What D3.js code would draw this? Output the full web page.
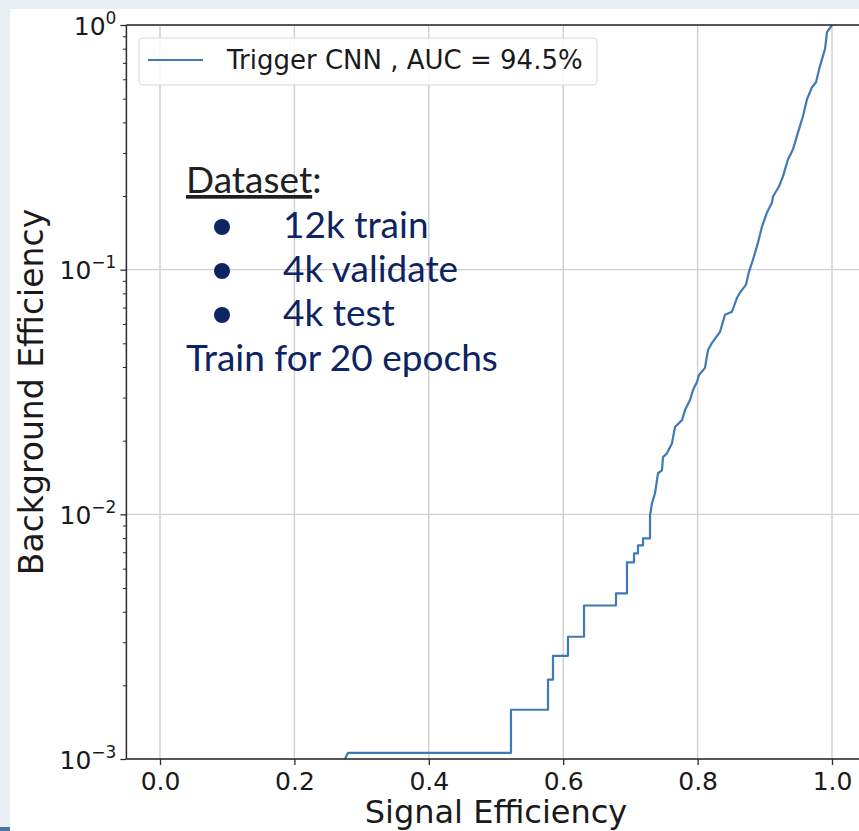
<!DOCTYPE html>
<html>
<head>
<meta charset="utf-8">
<script src="https://cdn.jsdelivr.net/npm/d3@7"></script>
<style>
  body { margin: 0; background: #e9eef4; }
  svg { display: block; }
</style>
</head>
<body>
<div id="chart"></div>
<script>
// ROC curve (signal efficiency = TPR, background efficiency = FPR)
const signalEff = [0.2753, 0.2798, 0.5223, 0.5223, 0.5774, 0.5774, 0.5848, 0.5848, 0.6071, 0.6071,
  0.6310, 0.6310, 0.6786, 0.6786, 0.6949, 0.6949, 0.7054, 0.7054, 0.7113, 0.7113,
  0.7188, 0.7188, 0.7292, 0.7292, 0.7321, 0.7366, 0.7411, 0.7470, 0.7485, 0.7545,
  0.7619, 0.7664, 0.7768, 0.7813, 0.7887, 0.7932, 0.7991, 0.8021, 0.8110, 0.8155,
  0.8214, 0.8333, 0.8408, 0.8512, 0.8586, 0.8631, 0.8720, 0.8765, 0.8824, 0.8869,
  0.8899, 0.8958, 0.9033, 0.9107, 0.9122, 0.9211, 0.9271, 0.9345, 0.9420, 0.9494,
  0.9568, 0.9628, 0.9702, 0.9762, 0.9821, 0.9896, 0.9926, 1.0];
const backgroundEff = [0.00100, 0.00106, 0.00106, 0.00159, 0.00159, 0.00211, 0.00211, 0.00264, 0.00264, 0.00316,
  0.00316, 0.00424, 0.00424, 0.00475, 0.00475, 0.00636, 0.00636, 0.00692, 0.00692, 0.00746,
  0.00746, 0.00797, 0.00797, 0.00990, 0.01109, 0.01219, 0.01472, 0.01514, 0.01713, 0.01778,
  0.01954, 0.02274, 0.02427, 0.02668, 0.02931, 0.03222, 0.03475, 0.03714, 0.03967, 0.04699,
  0.05020, 0.05570, 0.06546, 0.06730, 0.07676, 0.08050, 0.08686, 0.09818, 0.1099, 0.1208,
  0.1291, 0.1501, 0.1714, 0.1882, 0.1991, 0.2188, 0.2405, 0.2823, 0.3103, 0.3642,
  0.4236, 0.4974, 0.5569, 0.5838, 0.6792, 0.7974, 0.9355, 1.0];

const xTicks = [0.0, 0.2, 0.4, 0.6, 0.8, 1.0];
const yTicks = [1e-3, 1e-2, 1e-1, 1];
const yTickExp = ["\u22123", "\u22122", "\u22121", "0"];
const legendLabel = "Trigger CNN , AUC = 94.5%";
const noteTitle = "Dataset";
const noteItems = ["12k train", "4k validate", "4k test"];
const noteFooter = "Train for 20 epochs";

const width = 859, height = 831;
const lineColor = "#3f79b8";
const navy = "#0c2462";

const svg = d3.select("#chart").append("svg")
    .attr("width", width)
    .attr("height", height);

// slide background + white panel
svg.append("rect").attr("width", width).attr("height", height).attr("fill", "#e9eef4");
svg.append("rect").attr("x", 10).attr("y", 9).attr("width", width - 10).attr("height", height - 9).attr("fill", "#fff");
svg.append("rect").attr("x", 0).attr("y", 827).attr("width", 10).attr("height", 4).attr("fill", "#4f72a6");

// scales: x has matplotlib's 5% margins, y is log from 1e-3 to 1
const x = d3.scaleLinear().domain([-0.05, 1.05]).range([126.4, 865.6]);
const y = d3.scaleLog().domain([1e-3, 1]).range([759, 25]);

const [x0, x1] = x.range();
const [y0, y1] = y.range();

// grid
const grid = svg.append("g").attr("stroke", "#cfcfcf").attr("stroke-width", 1.4);
grid.selectAll(".gx").data(xTicks).join("line")
    .attr("x1", d => x(d)).attr("x2", d => x(d))
    .attr("y1", y0).attr("y2", y1);
grid.selectAll(".gy").data(yTicks).join("line")
    .attr("x1", x0).attr("x2", x1)
    .attr("y1", d => y(d)).attr("y2", d => y(d));

// curve
const line = d3.line()
    .x((d, i) => x(signalEff[i]))
    .y((d, i) => y(backgroundEff[i]));

svg.append("path")
    .datum(signalEff)
    .attr("fill", "none")
    .attr("stroke", lineColor)
    .attr("stroke-width", 2.2)
    .attr("stroke-linejoin", "round")
    .attr("d", line);

// spines
svg.append("g").attr("stroke", "#2a2a2a").attr("stroke-width", 1.5).attr("fill", "none")
    .call(g => g.append("line").attr("x1", x0).attr("x2", x0).attr("y1", y0).attr("y2", y1))
    .call(g => g.append("line").attr("x1", x0).attr("x2", x1).attr("y1", y0).attr("y2", y0))
    .call(g => g.append("line").attr("x1", x0).attr("x2", x1).attr("y1", y1).attr("y2", y1));

// x axis
const xAxis = svg.append("g")
    .attr("transform", `translate(0,${y0})`)
    .call(d3.axisBottom(x).tickValues(xTicks).tickFormat(d3.format(".1f")).tickSize(6).tickPadding(7));
xAxis.select(".domain").remove();
xAxis.selectAll(".tick line").attr("stroke", "#2a2a2a").attr("stroke-width", 1.3);
xAxis.selectAll(".tick text")
    .attr("fill", "#1a1a1a")
    .style("font-family", "DejaVu Sans")
    .style("font-size", "25px");

// y axis: major + log minor ticks
const minorTicks = [];
[1e-3, 1e-2, 1e-1].forEach(b => d3.range(2, 10).forEach(k => minorTicks.push(b * k)));

const yMinor = svg.append("g")
    .attr("transform", `translate(${x0},0)`)
    .call(d3.axisLeft(y).tickValues(minorTicks).tickFormat("").tickSize(3.5));
yMinor.select(".domain").remove();
yMinor.selectAll(".tick line").attr("stroke", "#2a2a2a").attr("stroke-width", 1);

const yAxis = svg.append("g")
    .attr("transform", `translate(${x0},0)`)
    .call(d3.axisLeft(y).tickValues(yTicks).tickFormat("").tickSize(6));
yAxis.select(".domain").remove();
yAxis.selectAll(".tick line").attr("stroke", "#2a2a2a").attr("stroke-width", 1.3);

const yLab = yAxis.selectAll(".tick").append("text")
    .attr("x", -10)
    .attr("y", 9)
    .attr("text-anchor", "end")
    .attr("fill", "#1a1a1a")
    .style("font-family", "DejaVu Sans")
    .style("font-size", "25px");
yLab.append("tspan").text("10");
yLab.append("tspan")
    .attr("dy", -11)
    .style("font-size", "17px")
    .text((d, i) => yTickExp[i]);

// axis titles
svg.append("text")
    .attr("x", (x0 + x1) / 2)
    .attr("y", 823)
    .attr("text-anchor", "middle")
    .attr("fill", "#1a1a1a")
    .style("font-family", "DejaVu Sans")
    .style("font-size", "32px")
    .text("Signal Efficiency");

svg.append("text")
    .attr("transform", `translate(43,${(y0 + y1) / 2}) rotate(-90)`)
    .attr("text-anchor", "middle")
    .attr("fill", "#1a1a1a")
    .style("font-family", "DejaVu Sans")
    .style("font-size", "33px")
    .text("Background Efficiency");

// legend
const legend = svg.append("g");
legend.append("rect")
    .attr("x", 139).attr("y", 38)
    .attr("width", 458).attr("height", 47)
    .attr("rx", 4)
    .attr("fill", "#fff").attr("fill-opacity", 0.85)
    .attr("stroke", "#d6d6d6");
legend.append("line")
    .attr("x1", 148).attr("x2", 203)
    .attr("y1", 60).attr("y2", 60)
    .attr("stroke", lineColor).attr("stroke-width", 2.2);
legend.append("text")
    .attr("x", 227).attr("y", 69)
    .attr("fill", "#1a1a1a")
    .style("font-family", "DejaVu Sans")
    .style("font-size", "26px")
    .text(legendLabel);

// dataset note
const note = svg.append("g").style("font-family", "Lato").style("font-size", "37px");
note.append("text")
    .attr("x", 186).attr("y", 193)
    .attr("fill", "#1f1f1f")
    .call(t => t.append("tspan").style("text-decoration", "underline").text(noteTitle))
    .call(t => t.append("tspan").text(":"));

noteItems.forEach((s, i) => {
    const by = 238 + i * 44;
    note.append("circle").attr("cx", 222).attr("cy", by - 11).attr("r", 8).attr("fill", navy);
    note.append("text").attr("x", 283).attr("y", by).attr("fill", navy).text(s);
});
note.append("text")
    .attr("x", 186).attr("y", 371)
    .attr("fill", navy)
    .text(noteFooter);
</script>
</body>
</html>
